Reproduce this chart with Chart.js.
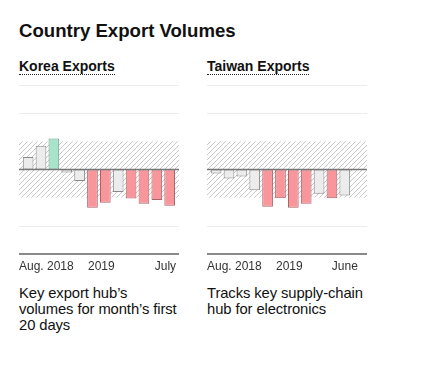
<!DOCTYPE html>
<html>
<head>
<meta charset="utf-8">
<script src="https://cdn.jsdelivr.net/npm/chart.js@4.4.1/dist/chart.umd.min.js"></script>
<style>
    body { margin: 0; background: #fff; font-family: "Liberation Sans", Arial, sans-serif; color: #111; }
    .wrap { position: relative; width: 424px; height: 365px; overflow: hidden; }
    .title { position: absolute; left: 19px; top: 21.5px; font-size: 18.6px; line-height: 18px; font-weight: bold; white-space: nowrap; }
    .sub { position: absolute; top: 59px; font-size: 14px; line-height: 14px; font-weight: bold; padding-bottom: 1px; border-bottom: 1px dotted #222; white-space: nowrap; }
    .desc { position: absolute; top: 285px; font-size: 14.8px; line-height: 16.2px; letter-spacing: -0.1px; color: #111; white-space: nowrap; }
    canvas { position: absolute; top: 80px; }
</style>
</head>
<body>
<div class="wrap">
    <div class="title">Country Export Volumes</div>
    <div class="sub" style="left:19px">Korea Exports</div>
    <div class="sub" style="left:207px">Taiwan Exports</div>
    <canvas id="koreaChart" width="160" height="200" style="left:19px"></canvas>
    <canvas id="taiwanChart" width="160" height="200" style="left:207px"></canvas>
    <div class="desc" style="left:19px">Key export hub’s<br>volumes for month’s first<br>20 days</div>
    <div class="desc" style="left:207px">Tracks key supply-chain<br>hub for electronics</div>
</div>
<script>
// months on the x axis (Aug. 2018 - July 2019)
var months = ['2018-08', '2018-09', '2018-10', '2018-11', '2018-12', '2019-01',
    '2019-02', '2019-03', '2019-04', '2019-05', '2019-06', '2019-07'];

// year-over-year change, %
var koreaValues = [4.4, 8.4, 11.0, -1.1, -4.1, -13.6, -11.8, -8.0, -10.3, -12.2, -10.8, -12.9];
var taiwanValues = [-1.4, -3.2, -2.5, -7.4, -13.2, -10.2, -13.6, -12.2, -8.6, -10.2, -9.2];

// tick labels shown under each chart
var koreaTicks = ['Aug. 2018', '', '', '', '', '2019', '', '', '', '', '', 'July'];
var taiwanTicks = ['Aug. 2018', '', '', '', '', '2019', '', '', '', '', 'June', ''];

// hatched band limit and light grid values
var bandLimit = 10;
var gridValues = [30, 20, -20];
var axisMin = -30;
var axisMax = 30;

// hatch pattern for the "normal" band
function makeHatch() {
    var c = document.createElement('canvas');
    c.width = 5;
    c.height = 5;
    var g = c.getContext('2d');
    g.strokeStyle = '#c9c9c9';
    g.lineWidth = 1;
    g.beginPath();
    g.moveTo(-1, 6); g.lineTo(6, -1);
    g.moveTo(-1, 1); g.lineTo(1, -1);
    g.moveTo(4, 6); g.lineTo(6, 4);
    g.stroke();
    return g.createPattern(c, 'repeat');
}

// background: grid lines + hatched band
var backPlugin = {
    id: 'backPlugin',
    beforeDatasetsDraw: function (chart) {
        var ctx = chart.ctx;
        var y = chart.scales.y;
        var w = chart.width;
        ctx.save();
        ctx.fillStyle = makeHatch();
        var top = y.getPixelForValue(bandLimit);
        var bottom = y.getPixelForValue(-bandLimit);
        ctx.fillRect(0, top, w, bottom - top);
        ctx.strokeStyle = '#ececec';
        ctx.lineWidth = 1;
        gridValues.forEach(function (v) {
            var py = Math.round(y.getPixelForValue(v)) + 0.5;
            ctx.beginPath();
            ctx.moveTo(0, py);
            ctx.lineTo(w, py);
            ctx.stroke();
        });
        ctx.restore();
    },
    afterDatasetsDraw: function (chart) {
        var ctx = chart.ctx;
        var y = chart.scales.y;
        var w = chart.width;
        ctx.save();
        // zero line
        ctx.strokeStyle = '#777';
        ctx.lineWidth = 1.5;
        var zy = y.getPixelForValue(0);
        ctx.beginPath();
        ctx.moveTo(0, zy);
        ctx.lineTo(w, zy);
        ctx.stroke();
        // bottom axis line
        ctx.strokeStyle = '#8a8a8a';
        ctx.lineWidth = 2;
        var by = y.getPixelForValue(axisMin);
        ctx.beginPath();
        ctx.moveTo(0, by);
        ctx.lineTo(w, by);
        ctx.stroke();

        // tick labels
        var labels = chart.options.plugins.tickText.labels;
        var x = chart.scales.x;
        ctx.font = '12px "Liberation Sans", Arial, sans-serif';
        ctx.fillStyle = '#333';
        ctx.textBaseline = 'alphabetic';
        var last = -1;
        labels.forEach(function (t, i) { if (t) last = i; });
        labels.forEach(function (t, i) {
            if (!t) return;
            var px = x.getPixelForValue(i);
            var half = x.getPixelForValue(1) - x.getPixelForValue(0);
            var tw = ctx.measureText(t).width;
            var lx;
            if (i === 0) {
                lx = 0;
            } else if (i === last) {
                lx = Math.min(px - tw / 2, chart.chartArea.right - tw);
            } else {
                lx = px - half * 0.35;
            }
            ctx.textAlign = 'left';
            ctx.fillText(t, lx, by + 16);
        });
        ctx.restore();
    }
};

// colour of each bar depends on whether it leaves the band
function barFill(v) {
    if (v > bandLimit) return '#a7e4c9';
    if (v < -bandLimit) return '#f8969c';
    return '#ececec';
}
function barBorder(v) {
    if (v > bandLimit) return '#6a9e86';
    if (v < -bandLimit) return '#a9646a';
    return '#8a8a8a';
}

function loadChart(id, values, ticks) {
    var ctx = document.getElementById(id);
    var config = {
        type: 'bar',
        data: {
            labels: months,
            datasets: [{
                data: values,
                backgroundColor: values.map(barFill),
                borderColor: values.map(barBorder),
                borderWidth: 1,
                borderSkipped: false,
                barPercentage: 0.83,
                categoryPercentage: 1
            }]
        },
        options: {
            responsive: false,
            animation: false,
            devicePixelRatio: 1,
            layout: { padding: { top: 5, bottom: 26, left: 2.7, right: 2.9 } },
            plugins: {
                legend: { display: false },
                tooltip: { enabled: false },
                tickText: { labels: ticks }
            },
            scales: {
                x: { display: false, offset: true },
                y: { display: false, min: axisMin, max: axisMax }
            }
        },
        plugins: [backPlugin]
    };
    return new Chart(ctx, config);
}

loadChart('koreaChart', koreaValues, koreaTicks);
loadChart('taiwanChart', taiwanValues, taiwanTicks);
</script>
</body>
</html>
